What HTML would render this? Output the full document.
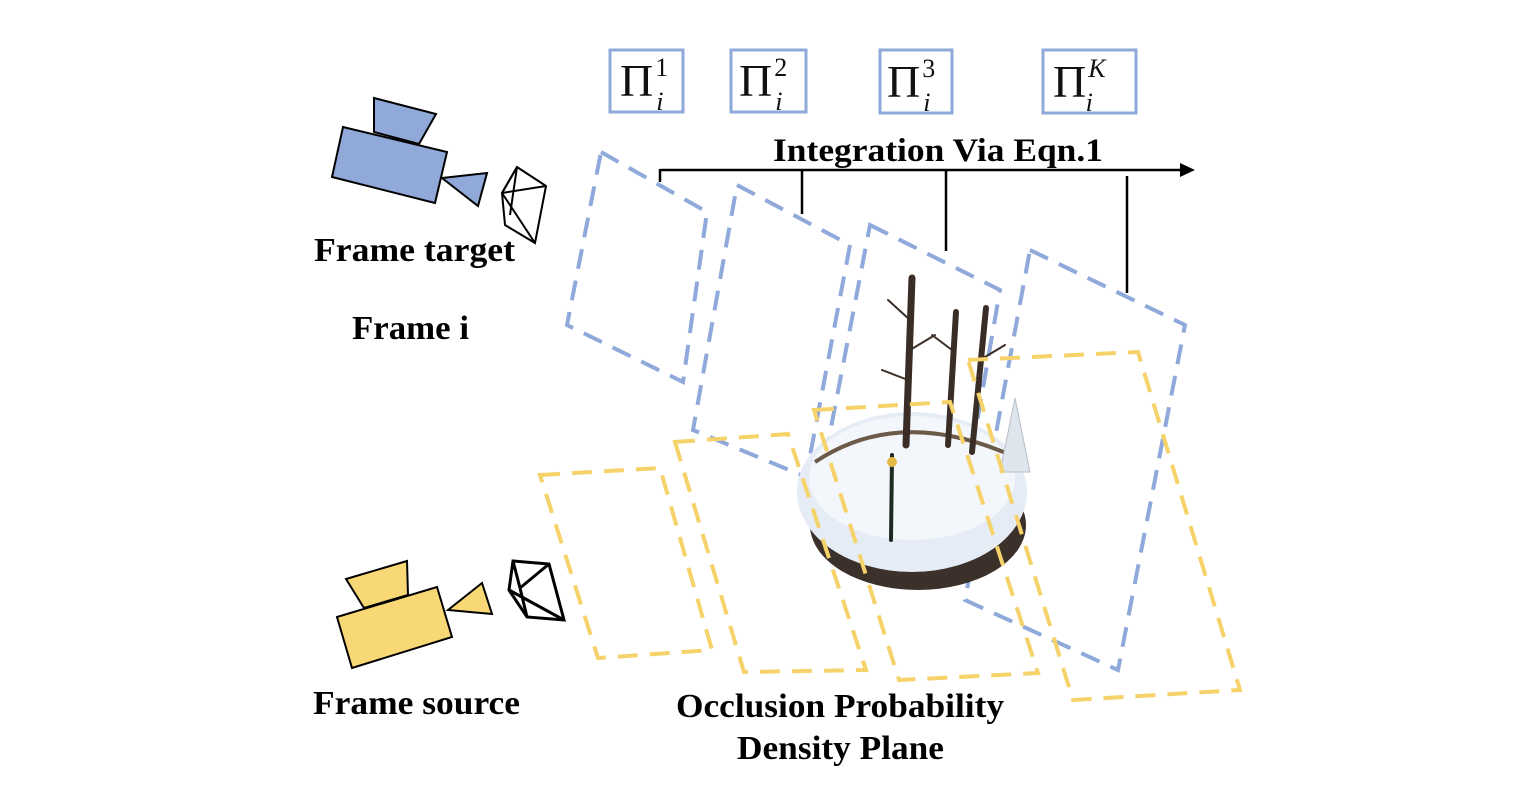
<!DOCTYPE html>
<html><head><meta charset="utf-8"><style>
html,body{margin:0;padding:0;background:#fff;}
svg{display:block}
.t{font-family:"Liberation Serif",serif;font-weight:bold;fill:#000}
.m{font-family:"Liberation Serif",serif;fill:#111}
</style></head><body>
<svg width="1536" height="794" viewBox="0 0 1536 794">
<g fill="none" stroke="#8ea9da" stroke-width="4" stroke-dasharray="20 12">
<polygon points="601,152 707,212 683,382 567,325"/>
<polygon points="737,185 850,245 806,477 693,430"/>
<polygon points="870,225 1000,290 953,560 818,495"/>
<polygon points="1030,250 1185,325 1118,670 965,600"/>
</g>
<g>
<ellipse cx="918" cy="525" rx="108" ry="65" fill="#3b302a"/>
<ellipse cx="912" cy="492" rx="115" ry="80" fill="#e6ecf5"/>
<ellipse cx="912" cy="478" rx="103" ry="62" fill="#f3f6fa"/>
<path d="M815,462 Q900,405 1015,457" fill="none" stroke="#6b5a48" stroke-width="4"/>
<g stroke="#3a2d26" stroke-linecap="round">
<line x1="912" y1="278" x2="906" y2="445" stroke-width="7"/>
<line x1="956" y1="312" x2="948" y2="445" stroke-width="6"/>
<line x1="986" y1="308" x2="972" y2="452" stroke-width="6"/>
<line x1="910" y1="320" x2="888" y2="300" stroke-width="2"/>
<line x1="910" y1="350" x2="935" y2="335" stroke-width="2"/>
<line x1="908" y1="380" x2="882" y2="370" stroke-width="2"/>
<line x1="952" y1="350" x2="932" y2="335" stroke-width="2"/>
<line x1="980" y1="360" x2="1005" y2="345" stroke-width="2"/>
<line x1="892" y1="455" x2="891" y2="540" stroke="#1e2a24" stroke-width="4"/>
</g>
<circle cx="892" cy="462" r="5" fill="#e5b948"/>
<path d="M1015,398 L1000,472 L1030,472 Z" fill="#dfe5ec" stroke="#b6bfc8"/>
</g>
<g fill="none" stroke="#f6d26a" stroke-width="4" stroke-dasharray="20 12">
<polygon points="540,475 660,468 712,650 598,658"/>
<polygon points="675,442 788,434 866,670 744,672"/>
<polygon points="814,410 950,402 1038,673 899,680"/>
<polygon points="968,360 1138,352 1240,690 1073,700"/>
</g>
<g stroke="#000" stroke-width="2.5">
<line x1="660" y1="170" x2="1185" y2="170"/>
<polygon points="1195,170 1180,163 1180,177" fill="#000" stroke="none"/>
<line x1="660" y1="169" x2="660" y2="182"/>
<line x1="802" y1="170" x2="802" y2="214"/>
<line x1="946" y1="170" x2="946" y2="251"/>
<line x1="1127" y1="176" x2="1127" y2="293"/>
</g>
<text class="t" x="773" y="161" font-size="33" textLength="330" lengthAdjust="spacingAndGlyphs">Integration Via Eqn.1</text>
<g fill="#fff" stroke="#8ea9da" stroke-width="3">
<rect x="610" y="50" width="73" height="62"/>
<rect x="731" y="50" width="75" height="62"/>
<rect x="880" y="50" width="72" height="63"/>
<rect x="1043" y="50" width="93" height="63"/>
</g>
<g class="m" font-size="46">
<text x="620" y="96">Π<tspan font-size="26" dy="-20" dx="2">1</tspan><tspan font-size="26" font-style="italic" dx="-12" dy="34">i</tspan></text>
<text x="739" y="96">Π<tspan font-size="26" dy="-20" dx="2">2</tspan><tspan font-size="26" font-style="italic" dx="-12" dy="34">i</tspan></text>
<text x="887" y="97">Π<tspan font-size="26" dy="-20" dx="2">3</tspan><tspan font-size="26" font-style="italic" dx="-12" dy="34">i</tspan></text>
<text x="1053" y="97">Π<tspan font-size="26" font-style="italic" dy="-20" dx="2">K</tspan><tspan font-size="26" font-style="italic" dx="-20" dy="34">i</tspan></text>
</g>
<g fill="#90a9d8" stroke="#000" stroke-width="2">
<polygon points="374,98 436,114 419,144 374,132"/>
<polygon points="343,127 447,152 435,203 332,177"/>
<polygon points="442,178 487,173 478,206"/>
</g>
<g fill="none" stroke="#000" stroke-width="2">
<polygon points="517,167 546,186 535,243 505,225 502,193"/>
<line x1="517" y1="167" x2="502" y2="193"/><line x1="502" y1="193" x2="546" y2="186"/>
<line x1="502" y1="193" x2="535" y2="243"/><line x1="517" y1="167" x2="510" y2="215"/>
</g>
<g fill="#f8d775" stroke="#000" stroke-width="2">
<polygon points="346,579 407,561 408,595 364,608"/>
<polygon points="337,617 437,587 452,637 352,668"/>
<polygon points="448,610 482,583 492,614"/>
</g>
<g fill="none" stroke="#000" stroke-width="3">
<polygon points="513,561 549,564 564,620 527,617 509,590"/>
<line x1="513" y1="561" x2="520" y2="588"/><line x1="520" y1="588" x2="549" y2="564"/>
<line x1="509" y1="590" x2="564" y2="620"/><line x1="520" y1="588" x2="527" y2="617"/>
</g>
<text class="t" x="314" y="261" font-size="34" textLength="201" lengthAdjust="spacingAndGlyphs">Frame target</text>
<text class="t" x="352" y="339" font-size="34" textLength="117" lengthAdjust="spacingAndGlyphs">Frame i</text>
<text class="t" x="313" y="714" font-size="34" textLength="207" lengthAdjust="spacingAndGlyphs">Frame source</text>
<text class="t" x="676" y="717" font-size="34" textLength="328" lengthAdjust="spacingAndGlyphs">Occlusion Probability</text>
<text class="t" x="737" y="759" font-size="34" textLength="207" lengthAdjust="spacingAndGlyphs">Density Plane</text>
</svg>
</body></html>
